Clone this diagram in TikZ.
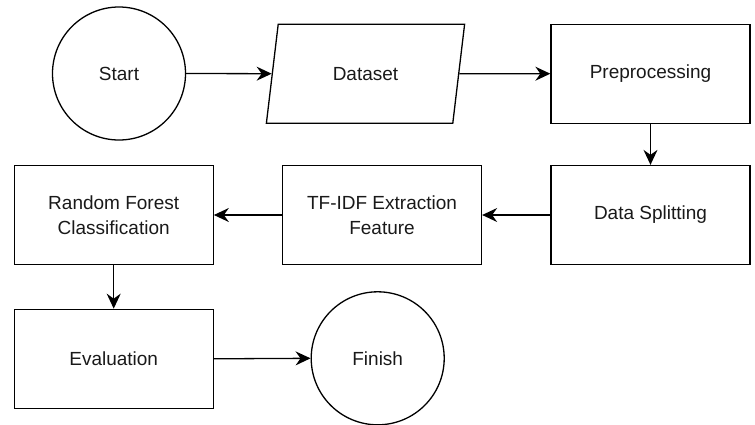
\documentclass[tikz,border=0pt]{standalone}
\usepackage{fontspec}
\setmainfont{Liberation Sans}
\usetikzlibrary{shapes.geometric,arrows.meta}
\begin{document}
\begin{tikzpicture}[x=1pt,y=-1pt,
  base/.style={draw=black,line width=1.3pt,font=\fontsize{19}{25}\selectfont,align=center,inner sep=0pt,text=black!90},
  procbox/.style={base,rectangle,minimum width=199pt,minimum height=99pt},
  termcirc/.style={base,circle,minimum size=133pt},
  iobox/.style={base,trapezium,trapezium left angle=71.5,trapezium right angle=108.5,trapezium stretches=true,minimum width=199pt,minimum height=99pt},
  flow/.style={draw=black,line width=1.3pt,-{Stealth[length=15pt,width=14pt,inset=5pt]}}]
\useasboundingbox (0,0) rectangle (755,424);
\node[termcirc] (start) at (119,73.5) {Start};
\node[iobox] (data) at (365.5,73.7) {Dataset};
\node[procbox] (pre) at (650.5,73.7) {Preprocessing};
\node[procbox] (split) at (650.5,215) {Data Splitting};
\node[procbox] (tfidf) at (382,215) {TF-IDF Extraction\\Feature};
\node[procbox] (rf) at (113.7,215) {Random Forest\\Classification};
\node[procbox] (eval) at (113.7,358.8) {Evaluation};
\node[termcirc] (fin) at (377.7,358.3) {Finish};
\draw[flow] (start.east) -- (data.west);
\draw[flow] (data.east) -- (pre.west);
\draw[flow] (pre.south) -- (split.north);
\draw[flow] (split.west) -- (tfidf.east);
\draw[flow] (tfidf.west) -- (rf.east);
\draw[flow] (rf.south) -- (eval.north);
\draw[flow] (eval.east) -- (fin.west);
\end{tikzpicture}
\end{document}
